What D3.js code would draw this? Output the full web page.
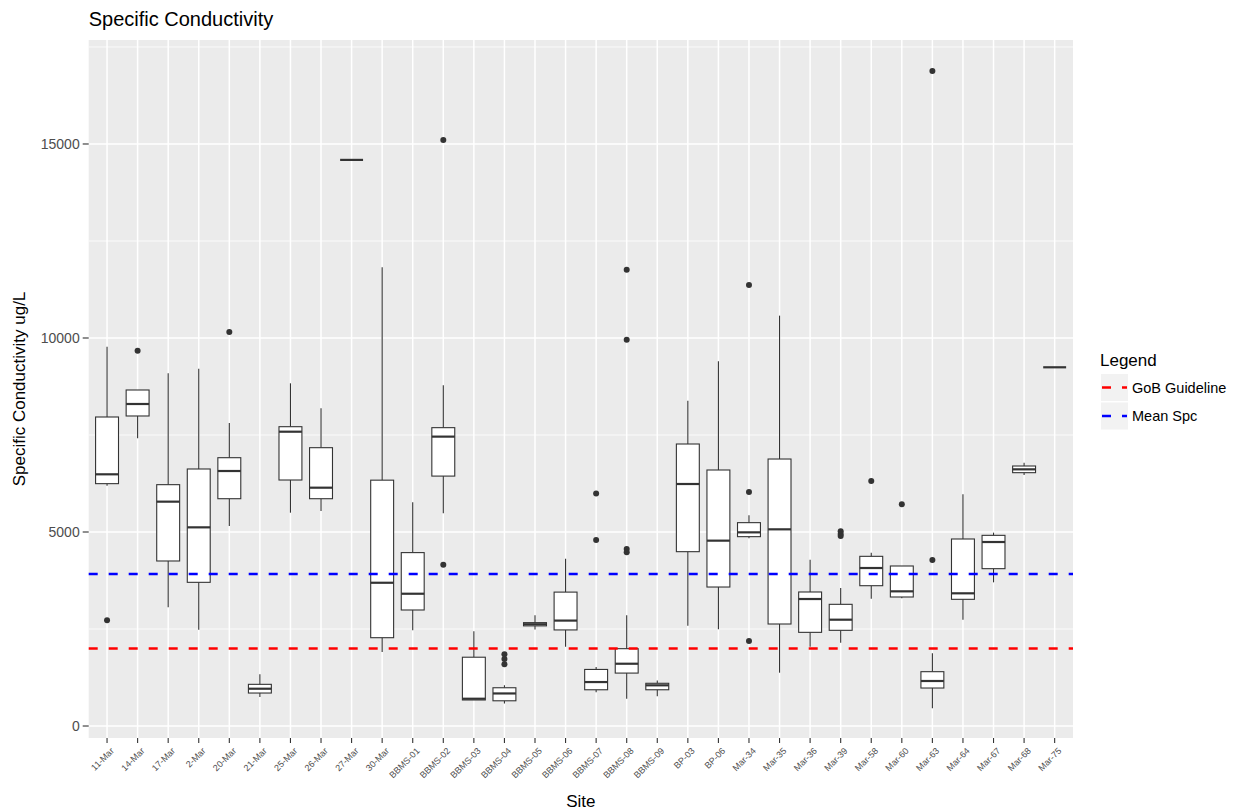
<!DOCTYPE html>
<html>
<head>
<meta charset="utf-8">
<script src="https://cdn.jsdelivr.net/npm/d3@7"></script>
<style>
  body { margin: 0; background: #ffffff; }
  svg { font-family: "Liberation Sans", Arial, sans-serif; }
</style>
</head>
<body>
<div id="chart"></div>
<script>
(function() {
    'use strict';

    var sites = ['11-Mar','14-Mar','17-Mar','2-Mar','20-Mar','21-Mar','25-Mar','26-Mar','27-Mar','30-Mar',
        'BBMS-01','BBMS-02','BBMS-03','BBMS-04','BBMS-05','BBMS-06','BBMS-07','BBMS-08','BBMS-09',
        'BP-03','BP-06','Mar-34','Mar-35','Mar-36','Mar-39','Mar-58','Mar-60','Mar-63','Mar-64','Mar-67','Mar-68','Mar-75'];

    var whiskerLow  = [6194, 7414, 3059, 2482, 5155,  747, 5498, 5541, 14590, 1909,
        2465, 5486,  671,  577, 2486, 2045,  871,  703,  766,
        2586, 2491, 4837, 1374, 2045, 2148, 3281, 3290,  455, 2740, 3703, 6469, 9245];
    var q1          = [6246, 7990, 4253, 3703, 5858,  850, 6340, 5858, 14590, 2276,
        2990, 6441,  671,  650, 2581, 2476,  934, 1364,  934,
        4493, 3582, 4880, 2629, 2414, 2466, 3616, 3325,  979, 3265, 4055, 6529, 9245];
    var medians     = [6487, 8299, 5782, 5120, 6572,  961, 7585, 6142, 14590, 3692,
        3409, 7458,  703,  839, 2623, 2717, 1133, 1605, 1049,
        6237, 4777, 4991, 5069, 3273, 2740, 4072, 3471, 1160, 3420, 4742, 6615, 9245];
    var q3          = [7964, 8660, 6220, 6624, 6915, 1074, 7714, 7173, 14590, 6336,
        4469, 7689, 1773,  986, 2664, 3451, 1458, 1993, 1101,
        7268, 6598, 5241, 6881, 3454, 3136, 4373, 4124, 1400, 4820, 4914, 6701, 9245];
    var whiskerHigh = [9776, 8660, 9090, 9210, 7809, 1332, 8832, 8187, 14590, 11822,
        5770, 8780, 2444, 1049, 2853, 4311, 1521, 2853, 1175,
        8385, 9399, 5430, 10576, 4287, 3557, 4467, 4124, 1873, 5971, 4983, 6787, 9245];
    var outliers    = [[2724], [9673], [], [], [10155], [], [], [], [], [],
        [], [15106, 4154], [], [1850, 1730, 1590], [], [], [5990, 4794], [11759, 9955, 4560, 4480], [],
        [], [], [11366, 6031, 2191], [], [], [5020, 4950, 4900], [6314], [5713], [16881, 4278], [], [], [], []];

    var guideline = 2000;
    var meanSpc = 3915;

    var yTicks = [0, 5000, 10000, 15000];
    var yMinor = [2500, 7500, 12500, 17500];

    var legendNames = ['GoB Guideline', 'Mean Spc'];
    var legendColors = ['#ff0000', '#0000ff'];

    var width = 1239,
        height = 812,
        left = 88.7,
        right = 1073,
        top = 40,
        bottom = 738;

    var svg = d3.select('#chart').append('svg')
        .attr('width', width)
        .attr('height', height);

    var x = d3.scalePoint()
        .domain(sites)
        .range([left, right])
        .padding(0.6);

    var y = d3.scaleLinear()
        .domain([-309, 17680])
        .range([bottom, top]);

    var boxW = x.step() * 0.75;

    // panel
    svg.append('rect')
        .attr('x', left)
        .attr('y', top)
        .attr('width', right - left)
        .attr('height', bottom - top)
        .attr('fill', '#ebebeb');

    svg.selectAll('.minor')
        .data(yMinor)
      .enter().append('line')
        .attr('x1', left).attr('x2', right)
        .attr('y1', function(d) { return y(d); })
        .attr('y2', function(d) { return y(d); })
        .attr('stroke', '#ffffff')
        .attr('stroke-width', 0.8);

    svg.selectAll('.major')
        .data(yTicks)
      .enter().append('line')
        .attr('x1', left).attr('x2', right)
        .attr('y1', function(d) { return y(d); })
        .attr('y2', function(d) { return y(d); })
        .attr('stroke', '#ffffff')
        .attr('stroke-width', 1.5);

    svg.selectAll('.vgrid')
        .data(sites)
      .enter().append('line')
        .attr('x1', function(d) { return x(d); })
        .attr('x2', function(d) { return x(d); })
        .attr('y1', top).attr('y2', bottom)
        .attr('stroke', '#ffffff')
        .attr('stroke-width', 1.5);

    // boxes
    var g = svg.selectAll('.box')
        .data(sites)
      .enter().append('g')
        .attr('class', 'box');

    g.append('line')
        .attr('x1', function(d) { return x(d); })
        .attr('x2', function(d) { return x(d); })
        .attr('y1', function(d, i) { return y(whiskerHigh[i]); })
        .attr('y2', function(d, i) { return y(q3[i]); })
        .attr('stroke', '#333333')
        .attr('stroke-width', 1.1);

    g.append('line')
        .attr('x1', function(d) { return x(d); })
        .attr('x2', function(d) { return x(d); })
        .attr('y1', function(d, i) { return y(q1[i]); })
        .attr('y2', function(d, i) { return y(whiskerLow[i]); })
        .attr('stroke', '#333333')
        .attr('stroke-width', 1.1);

    g.append('rect')
        .attr('x', function(d) { return x(d) - boxW / 2; })
        .attr('y', function(d, i) { return y(q3[i]); })
        .attr('width', boxW)
        .attr('height', function(d, i) { return y(q1[i]) - y(q3[i]); })
        .attr('fill', '#ffffff')
        .attr('stroke', '#333333')
        .attr('stroke-width', 1.1);

    g.append('line')
        .attr('x1', function(d) { return x(d) - boxW / 2; })
        .attr('x2', function(d) { return x(d) + boxW / 2; })
        .attr('y1', function(d, i) { return y(medians[i]); })
        .attr('y2', function(d, i) { return y(medians[i]); })
        .attr('stroke', '#333333')
        .attr('stroke-width', 2.2);

    g.each(function(d, i) {
        d3.select(this).selectAll('circle')
            .data(outliers[i])
          .enter().append('circle')
            .attr('cx', x(d))
            .attr('cy', function(v) { return y(v); })
            .attr('r', 3)
            .attr('fill', '#333333');
    });

    // reference lines
    [guideline, meanSpc].forEach(function(v, i) {
        svg.append('line')
            .attr('x1', left).attr('x2', right)
            .attr('y1', y(v)).attr('y2', y(v))
            .attr('stroke', legendColors[i])
            .attr('stroke-width', 2.5)
            .attr('stroke-dasharray', '9 11');
    });

    // y axis
    var yAxis = svg.append('g');
    yAxis.selectAll('line')
        .data(yTicks)
      .enter().append('line')
        .attr('x1', left - 6).attr('x2', left)
        .attr('y1', function(d) { return y(d); })
        .attr('y2', function(d) { return y(d); })
        .attr('stroke', '#333333')
        .attr('stroke-width', 1.1);
    yAxis.selectAll('text')
        .data(yTicks)
      .enter().append('text')
        .attr('x', left - 9)
        .attr('y', function(d) { return y(d); })
        .attr('dy', '0.35em')
        .attr('text-anchor', 'end')
        .attr('font-size', 14)
        .attr('fill', '#4d4d4d')
        .text(function(d) { return d; });

    // x axis
    var xAxis = svg.append('g');
    xAxis.selectAll('line')
        .data(sites)
      .enter().append('line')
        .attr('x1', function(d) { return x(d); })
        .attr('x2', function(d) { return x(d); })
        .attr('y1', bottom).attr('y2', bottom + 5)
        .attr('stroke', '#333333')
        .attr('stroke-width', 1.1);
    xAxis.selectAll('text')
        .data(sites)
      .enter().append('text')
        .attr('transform', function(d) { return 'translate(' + (x(d) + 3) + ',' + (bottom + 9) + ') rotate(-45)'; })
        .attr('text-anchor', 'end')
        .attr('dy', '0.7em')
        .attr('font-size', 9)
        .attr('fill', '#4d4d4d')
        .text(function(d) { return d; });

    // titles
    svg.append('text')
        .attr('x', left)
        .attr('y', 26)
        .attr('font-size', 20)
        .attr('fill', '#000000')
        .text('Specific Conductivity');

    svg.append('text')
        .attr('x', (left + right) / 2)
        .attr('y', 807)
        .attr('text-anchor', 'middle')
        .attr('font-size', 17)
        .attr('fill', '#000000')
        .text('Site');

    svg.append('text')
        .attr('transform', 'translate(25,' + ((top + bottom) / 2) + ') rotate(-90)')
        .attr('text-anchor', 'middle')
        .attr('font-size', 17)
        .attr('fill', '#000000')
        .text('Specific Conductivity ug/L');

    // legend
    var legend = svg.append('g');
    legend.append('text')
        .attr('x', 1100)
        .attr('y', 366)
        .attr('font-size', 17)
        .attr('fill', '#000000')
        .text('Legend');

    var item = legend.selectAll('.item')
        .data(legendNames)
      .enter().append('g')
        .attr('transform', function(d, i) { return 'translate(1101,' + (374 + i * 28.5) + ')'; });

    item.append('rect')
        .attr('width', 27)
        .attr('height', 27)
        .attr('fill', '#f2f2f2');

    item.append('line')
        .attr('x1', 1).attr('x2', 26)
        .attr('y1', 13.5).attr('y2', 13.5)
        .attr('stroke', function(d, i) { return legendColors[i]; })
        .attr('stroke-width', 2.5)
        .attr('stroke-dasharray', '9 11');

    item.append('text')
        .attr('x', 31)
        .attr('y', 13.5)
        .attr('dy', '0.35em')
        .attr('font-size', 14.5)
        .attr('fill', '#000000')
        .text(function(d) { return d; });
})();
</script>
</body>
</html>
